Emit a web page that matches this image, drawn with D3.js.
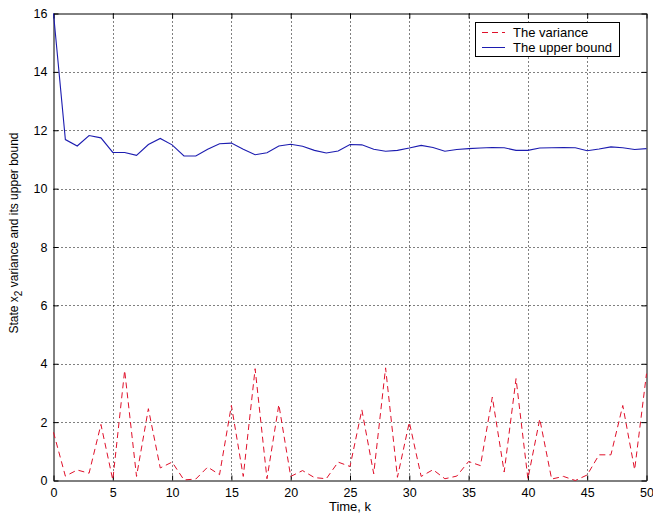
<!DOCTYPE html>
<html>
<head>
<meta charset="utf-8">
<script src="https://cdn.jsdelivr.net/npm/d3@7"></script>
<style>
  body { margin: 0; background: #fff; }
  text { font-family: "Liberation Sans", Arial, sans-serif; }
</style>
</head>
<body>
<svg id="chart"></svg>
<script>
// time steps k = 0..50
var steps = d3.range(0, 51);

var variance = [
    1.65, 0.15, 0.36, 0.25, 1.92, 0.02, 3.77, 0.14, 2.46, 0.43,
    0.63, 0.02, 0.05, 0.46, 0.2, 2.57, 0.14, 3.83, 0.06, 2.6,
    0.14, 0.34, 0.1, 0.06, 0.63, 0.48, 2.42, 0.23, 3.86, 0.11,
    2.0, 0.14, 0.37, 0.06, 0.15, 0.65, 0.51, 2.86, 0.29, 3.49,
    0.06, 2.11, 0.05, 0.14, 0.0, 0.19, 0.88, 0.88, 2.57, 0.37,
    3.66
];

var upperBound = [
    16, 11.68, 11.46, 11.82, 11.74, 11.24, 11.24, 11.14, 11.51, 11.72,
    11.5, 11.12, 11.12, 11.35, 11.54, 11.56, 11.35, 11.16, 11.23, 11.46,
    11.52, 11.45, 11.31, 11.22, 11.29, 11.51, 11.5, 11.35, 11.28, 11.31,
    11.39, 11.48, 11.41, 11.28, 11.34, 11.37, 11.39, 11.41, 11.4, 11.31,
    11.31, 11.39, 11.4, 11.41, 11.4, 11.3, 11.36, 11.43, 11.4, 11.34,
    11.37
];

var xTicks = [0, 5, 10, 15, 20, 25, 30, 35, 40, 45, 50];
var yTicks = [0, 2, 4, 6, 8, 10, 12, 14, 16];
var legendLabels = ['The variance', 'The upper bound'];

(function () {
    var width = 653,
        height = 515,
        pLeft = 53.5,
        pRight = 646.5,
        pTop = 13.5,
        pBottom = 480.5;

    var svg = d3.select('#chart')
        .attr('width', width)
        .attr('height', height);

    var x = d3.scaleLinear().domain([0, 50]).range([pLeft, pRight]);
    var y = d3.scaleLinear().domain([0, 16]).range([pBottom, pTop]);

    // grid
    svg.append('g')
        .selectAll('line')
        .data(xTicks.slice(1, -1))
        .join('line')
        .attr('x1', function (d) { return Math.round(x(d)) + 0.5; })
        .attr('x2', function (d) { return Math.round(x(d)) + 0.5; })
        .attr('y1', pTop)
        .attr('y2', pBottom)
        .attr('stroke', '#000')
        .attr('stroke-dasharray', '1,3');

    svg.append('g')
        .selectAll('line')
        .data(yTicks.slice(1, -1))
        .join('line')
        .attr('x1', pLeft)
        .attr('x2', pRight)
        .attr('y1', function (d) { return Math.round(y(d)) + 0.5; })
        .attr('y2', function (d) { return Math.round(y(d)) + 0.5; })
        .attr('stroke', '#000')
        .attr('stroke-dasharray', '1,3');

    // axes, ticks pointing inward
    var xAxis = svg.append('g')
        .attr('transform', 'translate(0,' + pBottom + ')')
        .call(d3.axisBottom(x).tickValues(xTicks).tickSizeInner(-5).tickSizeOuter(0).tickPadding(8));
    var xTop = svg.append('g')
        .attr('transform', 'translate(0,' + pTop + ')')
        .call(d3.axisTop(x).tickValues(xTicks).tickSizeInner(-5).tickSizeOuter(0).tickFormat(''));
    var yAxis = svg.append('g')
        .attr('transform', 'translate(' + pLeft + ',0)')
        .call(d3.axisLeft(y).tickValues(yTicks).tickSizeInner(-5).tickSizeOuter(0).tickPadding(6));
    var yRight = svg.append('g')
        .attr('transform', 'translate(' + pRight + ',0)')
        .call(d3.axisRight(y).tickValues(yTicks).tickSizeInner(-5).tickSizeOuter(0).tickFormat(''));

    [xAxis, xTop, yAxis, yRight].forEach(function (g) {
        g.selectAll('.domain').attr('stroke', '#000');
        g.selectAll('.tick line').attr('stroke', '#000');
        g.selectAll('text')
            .attr('fill', '#000')
            .style('font-size', '12.5px')
            .style('font-family', '"Liberation Sans", Arial, sans-serif');
    });

    // lines
    var line = function (vals) {
        return d3.line()
            .x(function (d, i) { return x(steps[i]); })
            .y(function (d) { return y(d); })(vals);
    };

    svg.append('path')
        .attr('d', line(variance))
        .attr('fill', 'none')
        .attr('stroke', '#e0102a')
        .attr('stroke-width', 1)
        .attr('stroke-dasharray', '6,4');

    svg.append('path')
        .attr('d', line(upperBound))
        .attr('fill', 'none')
        .attr('stroke', '#1c1cb0')
        .attr('stroke-width', 1.1);

    // axis labels
    svg.append('text')
        .attr('x', (pLeft + pRight) / 2)
        .attr('y', 511)
        .attr('text-anchor', 'middle')
        .style('font-size', '13px')
        .text('Time, k');

    var yLabel = svg.append('text')
        .attr('transform', 'translate(18,233) rotate(-90)')
        .attr('text-anchor', 'middle')
        .style('font-size', '12px');
    yLabel.append('tspan').text('State x');
    yLabel.append('tspan').attr('dy', 4).style('font-size', '10px').text('2');
    yLabel.append('tspan').attr('dy', -4).text(' variance and its upper bound');

    // legend
    var legend = svg.append('g');
    legend.append('rect')
        .attr('x', 475.5)
        .attr('y', 22.5)
        .attr('width', 144)
        .attr('height', 34)
        .attr('fill', '#fff')
        .attr('stroke', '#000');

    var legendStyles = [
        { color: '#e0102a', dash: '6,4' },
        { color: '#1c1cb0', dash: null }
    ];

    legend.selectAll('.item')
        .data(legendLabels)
        .join('g')
        .attr('transform', function (d, i) { return 'translate(0,' + (32.5 + i * 15) + ')'; })
        .each(function (d, i) {
            var g = d3.select(this);
            g.append('line')
                .attr('x1', 482)
                .attr('x2', 505)
                .attr('stroke', legendStyles[i].color)
                .attr('stroke-dasharray', legendStyles[i].dash);
            g.append('text')
                .attr('x', 513)
                .attr('dy', '0.35em')
                .style('font-size', '13px')
                .text(d);
        });
})();
</script>
</body>
</html>
